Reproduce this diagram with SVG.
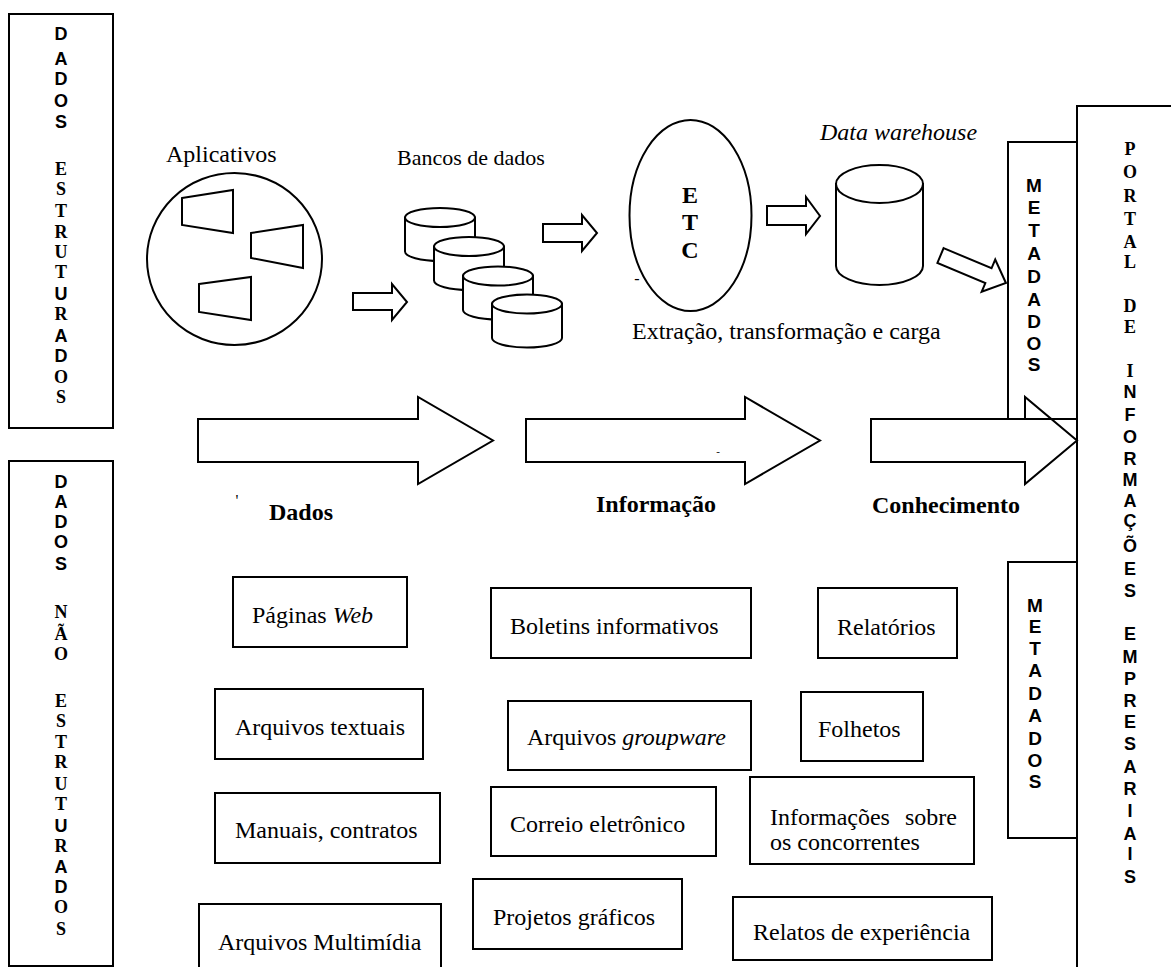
<svg xmlns="http://www.w3.org/2000/svg" width="1171" height="967" viewBox="0 0 1171 967">
<style>
.sh{fill:#fff;stroke:#000;stroke-width:2}
.no{fill:none;stroke:#000;stroke-width:2}
.t{font-family:"Liberation Serif","Times New Roman",serif;font-size:24px;fill:#000}
.tb{font-family:"Liberation Serif","Times New Roman",serif;font-size:24px;font-weight:bold;fill:#000}
.vs{font-family:"Liberation Sans",Arial,sans-serif;font-size:18px;font-weight:bold;text-anchor:middle;fill:#000}
.vr{font-family:"Liberation Serif","Times New Roman",serif;font-size:18px;font-weight:bold;text-anchor:middle;fill:#000}
.vm{font-family:"Liberation Sans",Arial,sans-serif;font-size:19px;font-weight:bold;text-anchor:middle;fill:#000}
.i{font-style:italic}
</style>
<rect width="1171" height="967" fill="#fff"/>

<g id="dados-estruturados">
<rect class="no" x="9" y="14" width="104" height="414"/>
<text class="vs" x="61" y="40">D</text><text class="vs" x="61" y="65">A</text><text class="vs" x="61" y="85">D</text><text class="vs" x="61" y="107">O</text><text class="vs" x="61" y="128">S</text>
<text class="vr" x="61" y="175">E</text><text class="vr" x="61" y="195">S</text><text class="vr" x="61" y="217">T</text><text class="vr" x="61" y="238">R</text><text class="vr" x="61" y="258">U</text><text class="vr" x="61" y="278">T</text><text class="vs" x="61" y="300">U</text><text class="vr" x="61" y="320">R</text><text class="vs" x="61" y="342">A</text><text class="vs" x="61" y="362">D</text><text class="vr" x="61" y="383">O</text><text class="vr" x="61" y="403">S</text>
</g>

<g id="dados-nao-estruturados">
<rect class="no" x="9" y="461" width="104" height="505"/>
<text class="vs" x="61" y="488">D</text><text class="vs" x="61" y="508">A</text><text class="vs" x="61" y="528">D</text><text class="vs" x="61" y="548">O</text><text class="vs" x="61" y="570">S</text>
<text class="vr" x="61" y="618">N</text><text class="vr" x="61" y="640">Ã</text><text class="vr" x="61" y="660">O</text>
<text class="vr" x="61" y="707">E</text><text class="vr" x="61" y="727">S</text><text class="vr" x="61" y="748">T</text><text class="vr" x="61" y="768">R</text><text class="vr" x="61" y="790">U</text><text class="vr" x="61" y="810">T</text><text class="vs" x="61" y="832">U</text><text class="vr" x="61" y="852">R</text><text class="vs" x="61" y="873">A</text><text class="vs" x="61" y="893">D</text><text class="vr" x="61" y="913">O</text><text class="vr" x="61" y="935">S</text>
</g>

<g id="aplicativos">
<text class="t" x="166" y="162">Aplicativos</text>
<ellipse class="no" cx="234.5" cy="259" rx="87.5" ry="86"/>
<polygon class="no" points="182,198 233,190 233,233 182,225"/>
<polygon class="no" points="251,233 303,225 303,268 251,258"/>
<polygon class="no" points="199,284 251,277 251,320 199,312"/>
</g>

<g id="bancos-de-dados">
<text class="t" x="397" y="165" style="font-size:22px">Bancos de dados</text>
<path class="sh" d="M405,217.5 V251.5 A35,9.5 0 0 0 475,251.5 V217.5 Z"/><ellipse class="sh" cx="440" cy="217.5" rx="35" ry="9.5"/>
<path class="sh" d="M434,246.5 V280.5 A35,9.5 0 0 0 504,280.5 V246.5 Z"/><ellipse class="sh" cx="469" cy="246.5" rx="35" ry="9.5"/>
<path class="sh" d="M463,276 V310 A35,9.5 0 0 0 533,310 V276 Z"/><ellipse class="sh" cx="498" cy="276" rx="35" ry="9.5"/>
<path class="sh" d="M492,304 V338 A35,9.5 0 0 0 562,338 V304 Z"/><ellipse class="sh" cx="527" cy="304" rx="35" ry="9.5"/>
</g>

<g id="etc">
<ellipse class="no" cx="690.5" cy="215.5" rx="61" ry="95.5"/>
<text class="tb" x="690" y="203" text-anchor="middle">E</text>
<text class="tb" x="690" y="230" text-anchor="middle">T</text>
<text class="tb" x="690" y="258" text-anchor="middle">C</text>
<text class="t" x="637" y="284" text-anchor="middle" style="font-size:16px">-</text>
<text class="t" x="632" y="339">Extração, transformação e carga</text>
</g>

<g id="data-warehouse">
<text class="t i" x="820" y="140">Data warehouse</text>
<path class="sh" d="M836,184 V266 A43.5,19 0 0 0 923,266 V184 Z"/>
<ellipse class="sh" cx="879.5" cy="184" rx="43.5" ry="19"/>
</g>

<g id="connectors">
<polygon class="sh" points="353,293 392,293 392,284 407,302 392,320 392,310 353,310"/>
<polygon class="sh" points="543,224 582,224 582,215 597,233 582,251 582,242 543,242"/>
<polygon class="sh" points="767,206 806,206 806,197 820,216 806,234 806,225 767,225"/>
<polygon class="sh" transform="translate(940.5,255.5) rotate(22.8)" points="0,-8 52,-8 52,-17.5 71,0 52,17.5 52,8 0,8"/>
<polygon class="sh" points="198,419 418,419 418,397 493,440.5 418,484 418,462 198,462"/>
<polygon class="sh" points="526,419 745,419 745,397 820,440.5 745,484 745,462 526,462"/>
<polygon class="sh" points="871,419 1025,419 1025,397 1077,440.5 1025,484 1025,462 871,462"/>
<text class="t" x="718" y="455" text-anchor="middle" style="font-size:11px">-</text>
<text class="t" x="237" y="506" text-anchor="middle" style="font-size:16px">'</text>
</g>

<g id="etapas">
<text class="tb" x="269" y="520">Dados</text>
<text class="tb" x="596" y="512">Informação</text>
<text class="tb" x="872" y="513">Conhecimento</text>
</g>

<g id="metadados-1">
<rect class="no" x="1008" y="142" width="69" height="277"/>
<text class="vm" x="1034" y="192">M</text><text class="vm" x="1034" y="214">E</text><text class="vm" x="1034" y="237">T</text><text class="vm" x="1034" y="260">A</text><text class="vm" x="1034" y="283">D</text><text class="vm" x="1034" y="306">A</text><text class="vm" x="1034" y="328">D</text><text class="vm" x="1034" y="350">O</text><text class="vm" x="1034" y="371">S</text>
</g>

<g id="metadados-2">
<rect class="no" x="1008" y="562" width="69" height="276"/>
<text class="vm" x="1035" y="612">M</text><text class="vm" x="1035" y="633">E</text><text class="vm" x="1035" y="655">T</text><text class="vm" x="1035" y="677">A</text><text class="vm" x="1035" y="700">D</text><text class="vm" x="1035" y="722">A</text><text class="vm" x="1035" y="745">D</text><text class="vm" x="1035" y="767">O</text><text class="vm" x="1035" y="788">S</text>
</g>

<g id="portal">
<path class="no" d="M1172,106 H1077 V968"/>
<text class="vr" x="1130" y="155">P</text><text class="vr" x="1130" y="178">O</text><text class="vr" x="1130" y="202">R</text><text class="vr" x="1130" y="225">T</text><text class="vr" x="1130" y="248">A</text><text class="vr" x="1130" y="268">L</text>
<text class="vr" x="1130" y="312">D</text><text class="vr" x="1130" y="333">E</text>
<text class="vr" x="1130" y="377">I</text><text class="vs" x="1130" y="398">N</text><text class="vs" x="1130" y="421">F</text><text class="vs" x="1130" y="443">O</text><text class="vs" x="1130" y="465">R</text><text class="vs" x="1130" y="486">M</text><text class="vs" x="1130" y="507">A</text><text class="vs" x="1130" y="527">Ç</text><text class="vs" x="1130" y="552">Õ</text><text class="vs" x="1130" y="575">E</text><text class="vs" x="1130" y="597">S</text>
<text class="vs" x="1130" y="640">E</text><text class="vs" x="1130" y="663">M</text><text class="vs" x="1130" y="685">P</text><text class="vs" x="1130" y="707">R</text><text class="vs" x="1130" y="728">E</text><text class="vs" x="1130" y="750">S</text><text class="vs" x="1130" y="773">A</text><text class="vs" x="1130" y="795">R</text><text class="vs" x="1130" y="817">I</text><text class="vs" x="1130" y="840">A</text><text class="vs" x="1130" y="860">I</text><text class="vs" x="1130" y="883">S</text>
</g>

<g id="paginas-web"><rect class="no" x="233" y="577" width="174" height="70"/><text class="t" x="252" y="623">Páginas <tspan class="i">Web</tspan></text></g>
<g id="arquivos-textuais"><rect class="no" x="215" y="689" width="208" height="70"/><text class="t" x="235" y="735">Arquivos textuais</text></g>
<g id="manuais-contratos"><rect class="no" x="215" y="793" width="225" height="70"/><text class="t" x="235" y="838">Manuais, contratos</text></g>
<g id="arquivos-multimidia"><rect class="no" x="199" y="904" width="242" height="80"/><text class="t" x="218" y="950">Arquivos Multimídia</text></g>
<g id="boletins"><rect class="no" x="491" y="588" width="260" height="70"/><text class="t" x="510" y="634">Boletins informativos</text></g>
<g id="arquivos-groupware"><rect class="no" x="508" y="701" width="243" height="69"/><text class="t" x="527" y="745">Arquivos <tspan class="i">groupware</tspan></text></g>
<g id="correio"><rect class="no" x="491" y="787" width="225" height="69"/><text class="t" x="510" y="832">Correio eletrônico</text></g>
<g id="projetos"><rect class="no" x="473" y="879" width="209" height="70"/><text class="t" x="493" y="925">Projetos gráficos</text></g>
<g id="relatorios"><rect class="no" x="818" y="588" width="139" height="70"/><text class="t" x="837" y="635">Relatórios</text></g>
<g id="folhetos"><rect class="no" x="801" y="692" width="122" height="69"/><text class="t" x="818" y="737">Folhetos</text></g>
<g id="concorrentes"><rect class="no" x="750" y="777" width="224" height="87"/><text class="t" x="770" y="825">Informações <tspan x="905">sobre</tspan></text><text class="t" x="770" y="850">os concorrentes</text></g>
<g id="relatos"><rect class="no" x="733" y="897" width="259" height="63"/><text class="t" x="753" y="940">Relatos de experiência</text></g>
</svg>
